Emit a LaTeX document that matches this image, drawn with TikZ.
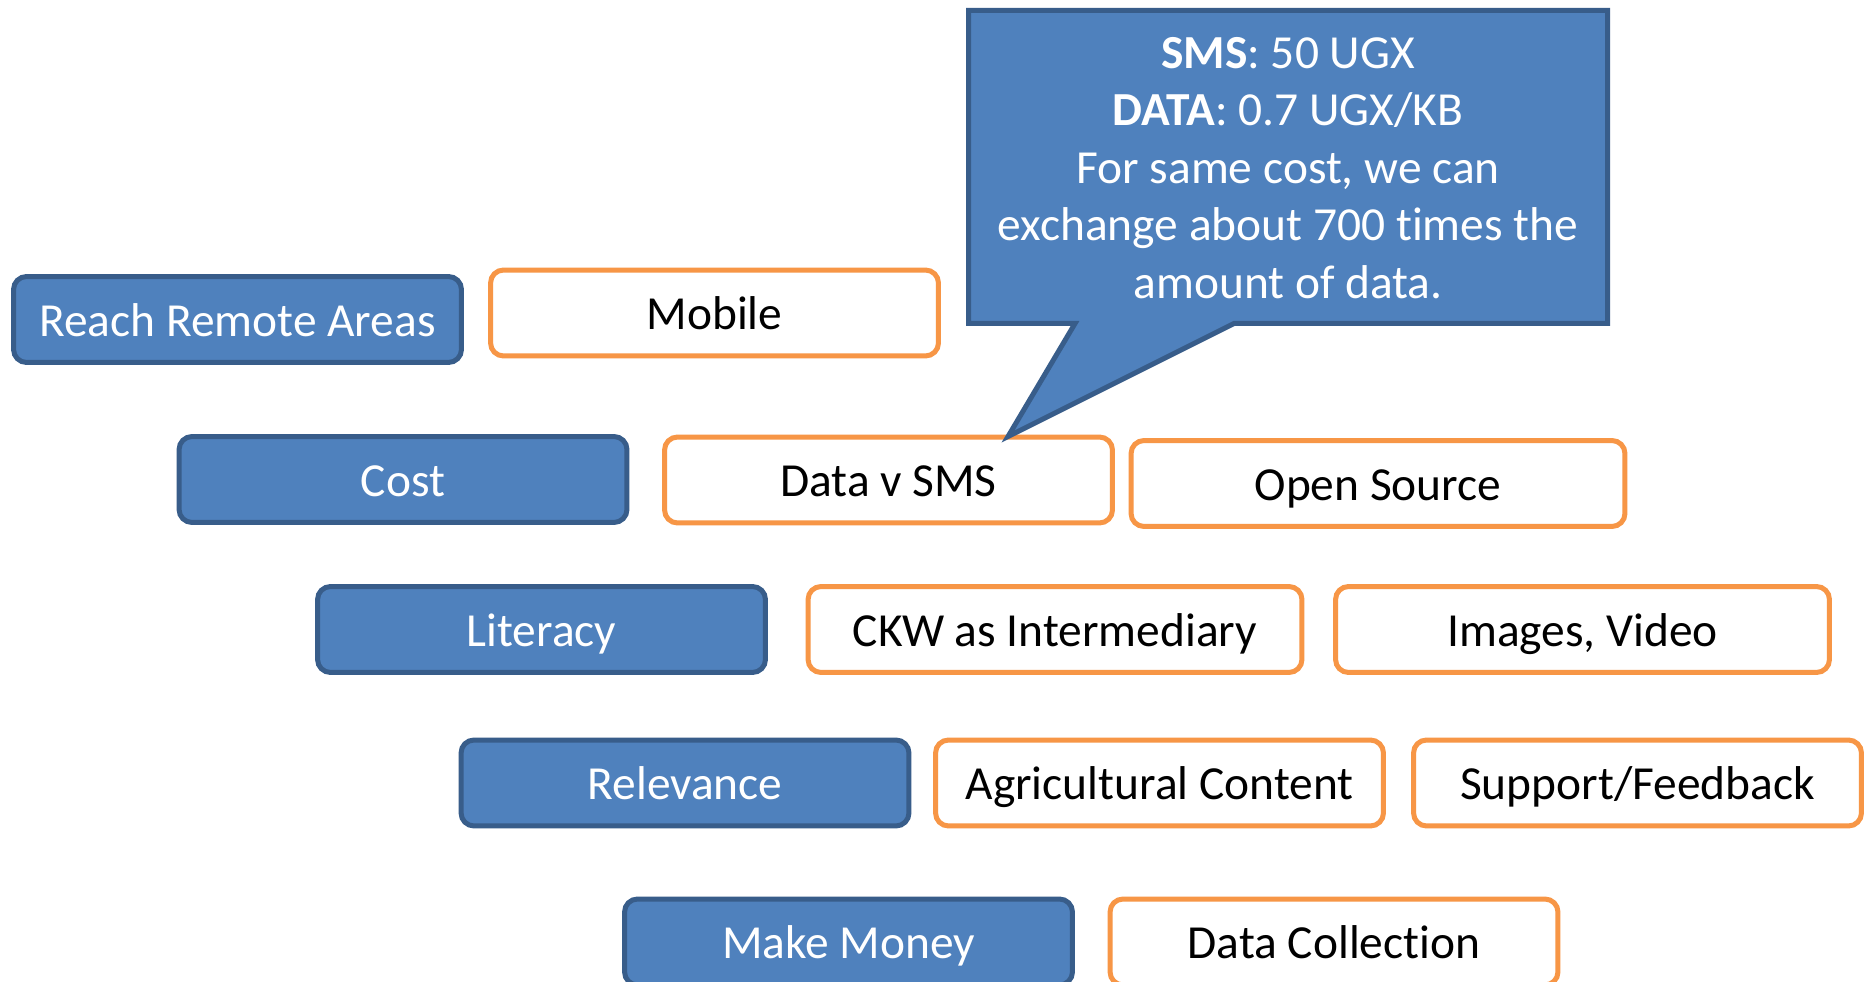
\documentclass[tikz,border=0pt]{standalone}
\usepackage{fontspec}
\setmainfont{Carlito}[Ligatures=NoCommon]
\usetikzlibrary{calc}
\definecolor{goalfill}{HTML}{4F81BD}
\definecolor{goalline}{HTML}{385D8A}
\definecolor{meansline}{HTML}{F79646}
\tikzset{
    goal/.style = {draw=goalline, fill=goalfill, line width=0.1cm, rounded corners=0.26cm,
        minimum width=8.96cm, minimum height=1.72cm, text=white,
        text height=19pt, text depth=0pt,
        font=\fontsize{27}{33}\selectfont},
    means/.style = {draw=meansline, fill=white, line width=0.1cm, rounded corners=0.26cm,
        minimum width=8.96cm, minimum height=1.72cm, text=black,
        text height=19pt, text depth=0pt,
        font=\fontsize{27}{33}\selectfont},
    wide/.style = {minimum width=9.88cm},
}
\begin{document}
\begin{tikzpicture}[x=0.02cm, y=-0.02cm]
        \useasboundingbox[fill=white] (0,0) rectangle (1871,982);
        % goals
        \node[goal] (reach) at (237.5,319.5){Reach Remote Areas};
        \node[goal] (cost) at (403,479.5){Cost};
        \node[goal] (literacy) at (541.5,629.5){Literacy};
        \node[goal] (relevance) at (685,783){Relevance};
        \node[goal] (money) at (848.5,942){Make Money};

        % means
        \node[means] (mobile) at (714.5,313){Mobile};
        \node[means] (datasms) at (888.5,480){Data v SMS};
        \node[means, wide] (opensrc) at (1378,483.5){Open Source};
        \node[means, wide] (ckw) at (1055,629.5){CKW as Intermediary};
        \node[means, wide] (images) at (1582.5,629.5){Images, Video};
        \node[means] (agri) at (1159.5,783){Agricultural Content};
        \node[means] (support) at (1637.5,783){Support/Feedback};
        \node[means] (collection) at (1334,942){Data Collection};

        % callout on data v sms
        \coordinate (tip) at ($(datasms.north)+(119.5,2)$);
        \filldraw[fill=goalfill, draw=goalline, line width=0.1cm, line join=miter]
            (968.5,10.5) -- (1607.5,10.5) -- (1607.5,323.5) -- (1234,323.5) -- (tip)
            -- (1075,323.5) -- (968.5,323.5) -- cycle;
        \node[text=white, align=center, font=\fontsize{27}{32.8}\selectfont] (note) at (1288,168)
            {\textbf{SMS}: 50 UGX\\ \textbf{DATA}: 0.7 UGX/KB\\ For same cost, we can\\
             exchange about 700 times the\\ amount of data.};
    \end{tikzpicture}
\end{document}
